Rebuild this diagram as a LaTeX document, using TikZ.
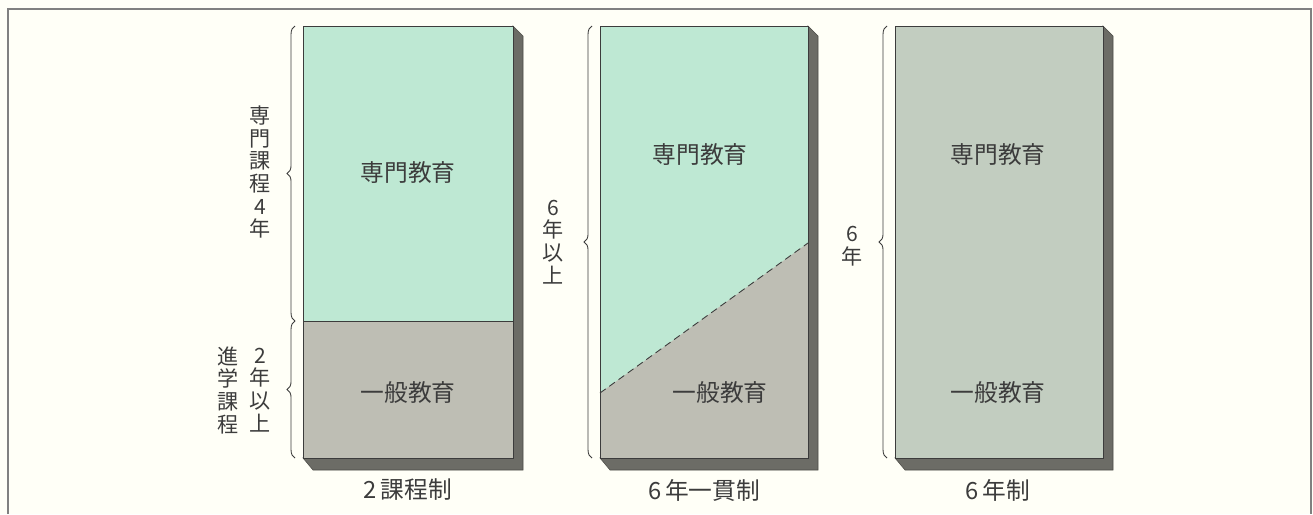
\documentclass[tikz,border=0pt]{standalone}
\usepackage{fontspec}
\newfontfamily\cjk{Noto Sans CJK JP}
\usetikzlibrary{decorations.pathreplacing}
\definecolor{paper}{RGB}{255,255,247}
\definecolor{mint}{RGB}{190,232,211}
\definecolor{stone}{RGB}{190,190,180}
\definecolor{sage}{RGB}{194,205,192}
\definecolor{slabshade}{RGB}{108,108,102}
\definecolor{ink}{RGB}{60,60,60}
\begin{document}
\begin{tikzpicture}[x=0.02cm,y=-0.02cm,
    every node/.style={inner sep=0pt,text=ink,font=\cjk\fontsize{13.5}{16}\selectfont},
    vlabel/.style={align=center,font=\cjk\fontsize{12}{12.9}\selectfont},
    edge/.style={draw=ink,line width=0.5pt},
    shade/.style={fill=slabshade,draw=slabshade!70!black,line width=0.3pt},
    curly/.style={draw=ink,line width=0.5pt,decorate,decoration={brace,amplitude=4.5pt}}]
    % paper and frame
    \fill [paper] (0,0) rectangle (1313,514);
    \draw [gray,line width=0.6pt] (8,514) -- (8,9) -- (1311,9) -- (1311,514);
    % corners of the three slabs
    \coordinate (a1) at (303,26);  \coordinate (a2) at (513,458);
    \coordinate (b1) at (600,26);  \coordinate (b2) at (808,458);
    \coordinate (c1) at (895,26);  \coordinate (c2) at (1103,458);
    % 2 kateisei
    \fill [shade] (513,26) -- (523,36) -- (523,470) -- (313,470) -- (303,458) -- (513,458) -- cycle;
    \fill [mint] (a1) rectangle (513,321);
    \fill [stone] (303,321) rectangle (a2);
    \draw [edge] (303,321) -- (513,321);
    \draw [edge] (a1) rectangle (a2);
    \node (spec1) at (408,173) {専門教育};
    \node (gen1) at (408,393) {一般教育};
    \node (cap1) at (408,490) {2\,課程制};
    % 6 nen ikkansei
    \fill [shade] (808,26) -- (818,36) -- (818,470) -- (610,470) -- (600,458) -- (808,458) -- cycle;
    \fill [mint] (b1) rectangle (b2);
    \fill [stone] (600,393) -- (808,243) -- (b2) -- (600,458) -- cycle;
    \draw [edge,dashed,dash pattern=on 4pt off 2.5pt] (600,393) -- (808,243);
    \draw [edge] (b1) rectangle (b2);
    \node (spec2) at (700,155) {専門教育};
    \node (gen2) at (720,393) {一般教育};
    \node (cap2) at (704,490) {6\,年一貫制};
    % 6 nensei
    \fill [shade] (1103,26) -- (1113,36) -- (1113,470) -- (905,470) -- (895,458) -- (1103,458) -- cycle;
    \fill [sage] (c1) rectangle (c2);
    \draw [edge] (c1) rectangle (c2);
    \node (spec3) at (998,155) {専門教育};
    \node (gen3) at (998,393) {一般教育};
    \node (cap3) at (998,490) {6\,年制};
    % braces
    \coordinate (k1) at (295,26);  \coordinate (k2) at (295,321);  \coordinate (k3) at (295,458);
    \draw [curly] (k2) -- (k1);
    \draw [curly] (k3) -- (k2);
    \coordinate (m1) at (592,26);  \coordinate (m2) at (592,458);
    \draw [curly] (m2) -- (m1);
    \coordinate (n1) at (887,26);  \coordinate (n2) at (887,458);
    \draw [curly] (n2) -- (n1);
    % vertical labels
    \node [vlabel] (sen) at (260,172) {専\\門\\課\\程\\4\\年};
    \node [vlabel] (nen2) at (260,390) {2\\年\\以\\上};
    \node [vlabel] (shin) at (228,390) {進\\学\\課\\程};
    \node [vlabel] (nen6a) at (553,242) {6\\年\\以\\上};
    \node [vlabel] (nen6b) at (852,246) {6\\年};
\end{tikzpicture}
\end{document}
